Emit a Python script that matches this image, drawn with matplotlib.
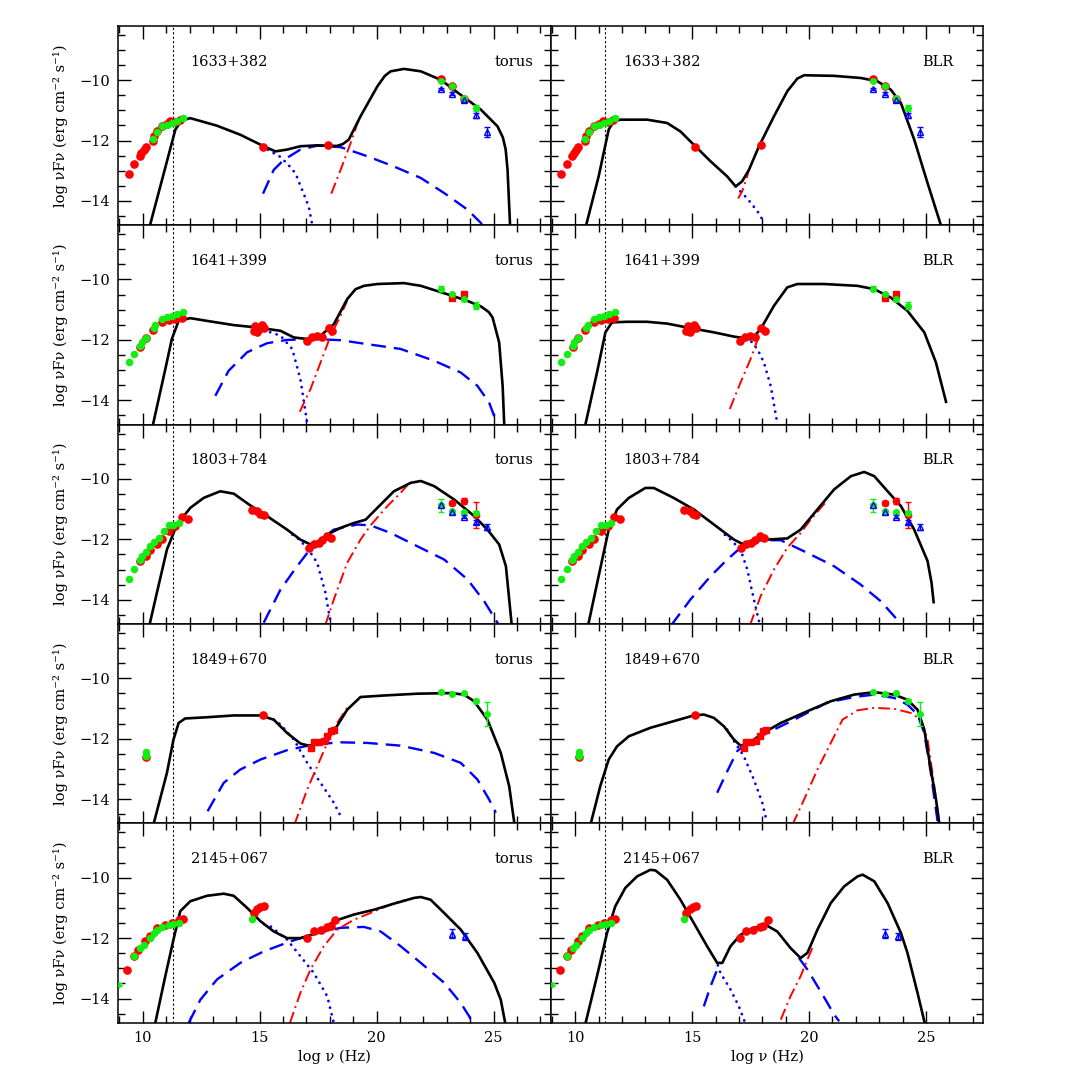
import matplotlib
matplotlib.use("Agg")
import matplotlib.pyplot as plt
from matplotlib.ticker import MultipleLocator

plt.rcParams["font.family"] = ["DejaVu Serif", "DejaVu Sans"]

# ---------------------------------------------------------------- data points
# 1633+382
S1633_RED_X = [9.39, 9.64, 9.86, 9.93, 10.03, 10.13, 10.43, 10.46, 10.60, 10.81, 11.03, 11.17,
               11.39, 11.60, 15.13, 17.94, 22.74, 23.24, 23.74]
S1633_RED_Y = [-13.10, -12.78, -12.52, -12.41, -12.30, -12.22, -12.03, -11.86, -11.70, -11.53,
               -11.44, -11.37, -11.40, -11.31, -12.23, -12.16, -9.96, -10.19, -10.62]
S1633_GRN_X = [10.43, 10.60, 10.81, 11.03, 11.24, 11.46, 11.71]
S1633_GRN_Y = [-11.94, -11.73, -11.53, -11.48, -11.42, -11.37, -11.26]
S1633_GERR = [(22.74, -10.04, 0.04), (23.24, -10.21, 0.05), (23.74, -10.60, 0.06), (24.24, -10.93, 0.10)]
S1633_TRI = [(22.74, -10.30, 0.04), (23.24, -10.45, 0.04), (23.74, -10.67, 0.05),
             (24.24, -11.17, 0.07), (24.74, -11.73, 0.17)]

# 1641+399
S1641_RED_X = [9.89, 10.13, 10.43, 10.81, 11.10, 11.39, 11.67,
               14.74, 14.81, 14.96, 15.10, 15.17, 14.89,
               17.03, 17.24, 17.46, 17.67, 17.96, 18.10]
S1641_RED_Y = [-12.25, -11.95, -11.68, -11.42, -11.33, -11.31, -11.28,
               -11.70, -11.53, -11.64, -11.51, -11.59, -11.75,
               -12.03, -11.92, -11.86, -11.92, -11.59, -11.70]
S1641_GRN_X = [9.39, 9.64, 9.89, 9.96, 10.13, 10.46, 10.53, 10.81, 11.03, 11.24, 11.46, 11.71]
S1641_GRN_Y = [-12.72, -12.45, -12.19, -12.08, -11.93, -11.59, -11.51, -11.31, -11.23, -11.20,
               -11.15, -11.07]
S1641_GERR = [(22.74, -10.30, 0.08), (23.24, -10.49, 0.05), (23.74, -10.65, 0.06), (24.24, -10.87, 0.12)]
S1641_RSQ = [(23.24, -10.60, 0.06), (23.74, -10.49, 0.06)]

# 1803+784
S1803_RED_X = [9.86, 10.13, 10.31, 10.60, 10.81, 11.10, 11.39, 11.67, 11.91,
               14.67, 14.89, 15.03, 15.17,
               17.10, 17.31, 17.53, 17.67, 17.89, 18.06]
S1803_RED_Y = [-12.72, -12.54, -12.34, -12.14, -11.98, -11.73, -11.57, -11.27, -11.32,
               -11.04, -11.07, -11.16, -11.21,
               -12.30, -12.17, -12.12, -12.01, -11.90, -11.97]
S1803_GRN_X = [9.39, 9.64, 9.86, 9.96, 10.13, 10.31, 10.46, 10.67, 10.89, 11.10, 11.31, 11.53]
S1803_GRN_Y = [-13.30, -12.98, -12.67, -12.56, -12.41, -12.23, -12.09, -11.95, -11.73, -11.51,
               -11.54, -11.46]
S1803_GERR = [(22.74, -10.88, 0.20), (23.24, -11.07, 0.05), (23.74, -11.10, 0.05), (24.24, -11.12, 0.05)]
S1803_RERR = [(23.24, -10.79, 0.07), (23.74, -10.74, 0.10), (24.24, -11.18, 0.43)]
S1803_TRI = [(22.74, -10.88, 0.05), (23.24, -11.10, 0.05), (23.74, -11.26, 0.05),
             (24.24, -11.43, 0.06), (24.74, -11.59, 0.10)]

# 1849+670
S1849_RED_X = [10.14, 15.13]
S1849_RED_Y = [-12.60, -11.23]
S1849_GRN_X = [10.14, 10.14]
S1849_GRN_Y = [-12.45, -12.56]
S1849_RSQ = [(17.20, -12.30, 0.05), (17.31, -12.11, 0.04), (17.53, -12.11, 0.04), (17.74, -12.08, 0.04),
             (17.89, -11.92, 0.05), (18.03, -11.75, 0.05), (18.17, -11.70, 0.05)]
S1849_GERR = [(22.74, -10.46, 0.03), (23.24, -10.51, 0.03), (23.74, -10.49, 0.03),
              (24.24, -10.74, 0.06), (24.74, -11.18, 0.40)]

# 2145+067
S2145_RED_X = [9.34, 9.64, 9.81, 10.10, 10.31, 10.60, 10.96, 11.24, 11.53, 11.71,
               14.74, 14.89, 15.03, 15.17,
               17.03, 17.31, 17.60, 17.89, 18.03, 18.24]
S2145_RED_Y = [-13.07, -12.58, -12.40, -12.11, -11.94, -11.66, -11.58, -11.50, -11.39, -11.37,
               -11.17, -11.04, -10.97, -10.93,
               -12.00, -11.78, -11.72, -11.63, -11.61, -11.39]
S2145_GRN_X = [9.64, 9.89, 10.03, 10.29, 10.46, 10.60, 10.81, 11.10, 11.31, 11.53, 14.67]
S2145_GRN_Y = [-12.60, -12.33, -12.22, -12.00, -11.83, -11.72, -11.63, -11.55, -11.53, -11.50, -11.36]
S2145_GCROSS = [(8.99, -13.54, 0.04)]
S2145_TRI = [(23.24, -11.85, 0.15), (23.79, -11.94, 0.12)]

# ---------------------------------------------------------------- model curves (log nu, log nuFnu)
T1633_TOT = [(10.29, -14.85), (10.89, -13.10), (11.39, -11.64), (11.65, -11.34), (12.03, -11.26),
             (13.17, -11.51), (14.17, -11.81), (15.17, -12.19), (15.67, -12.36), (16.17, -12.30),
             (16.74, -12.19), (17.46, -12.16), (18.30, -12.18), (18.55, -12.12), (18.81, -11.97),
             (19.31, -11.20), (20.03, -10.21), (20.35, -9.86), (20.60, -9.71), (21.17, -9.63),
             (21.89, -9.71), (22.74, -9.99), (23.60, -10.49), (24.46, -10.98), (25.17, -11.53),
             (25.40, -11.90), (25.52, -12.30), (25.60, -12.97), (25.71, -14.85)]
T1633_SYN = [(15.10, -12.18), (15.46, -12.36), (15.90, -12.55), (16.25, -12.83), (16.54, -13.10),
             (16.74, -13.50), (16.90, -13.80), (17.10, -14.20), (17.26, -14.85)]
T1633_EXT = [(15.14, -13.76), (15.60, -12.97), (16.03, -12.64), (16.74, -12.30), (17.46, -12.17),
             (18.46, -12.22), (19.60, -12.52), (20.74, -12.86), (21.89, -13.24), (22.89, -13.74),
             (23.89, -14.29), (24.46, -14.73), (24.55, -14.85)]
T1633_SSC = [(18.06, -13.76), (18.46, -12.97), (18.89, -12.08), (19.17, -11.45), (19.31, -11.20)]

B1633_TOT = [(10.45, -14.85), (11.00, -13.19), (11.43, -11.64), (11.64, -11.37), (11.93, -11.31),
             (13.07, -11.31), (13.93, -11.42), (14.50, -11.70), (15.07, -12.14), (15.79, -12.69),
             (16.50, -13.19), (16.86, -13.52), (17.14, -13.35), (17.43, -12.97), (17.86, -12.19),
             (18.50, -11.20), (19.07, -10.37), (19.50, -9.95), (19.79, -9.84), (21.07, -9.86),
             (22.21, -9.93), (22.93, -10.04), (23.50, -10.32), (23.93, -10.76), (24.50, -11.97),
             (25.07, -13.41), (25.66, -14.85)]
B1633_SYN = [(16.86, -13.52), (17.36, -13.92), (17.79, -14.34), (18.01, -14.62)]
B1633_SSC = [(16.97, -13.92), (17.14, -13.68), (17.31, -13.30), (17.43, -12.97)]

T1641_TOT = [(10.42, -14.85), (10.96, -12.97), (11.24, -11.97), (11.53, -11.37), (12.03, -11.28),
             (12.74, -11.37), (13.89, -11.51), (14.89, -11.59), (15.89, -11.70), (16.46, -11.92),
             (17.03, -11.97), (17.60, -11.86), (18.17, -11.48), (18.74, -10.65), (19.10, -10.32),
             (19.46, -10.21), (20.03, -10.15), (21.17, -10.12), (21.89, -10.21), (23.03, -10.49),
             (23.89, -10.71), (24.46, -10.89), (24.80, -11.08), (24.96, -11.26), (25.24, -12.08),
             (25.39, -13.52), (25.46, -14.85)]
T1641_SYN = [(14.60, -11.57), (15.03, -11.64), (15.89, -11.86), (16.39, -12.30), (16.74, -13.30),
             (17.05, -14.85)]
T1641_EXT = [(13.10, -13.85), (13.67, -13.02), (14.46, -12.41), (15.31, -12.11), (16.17, -12.00),
             (17.31, -11.97), (18.46, -12.01), (19.60, -12.14), (21.03, -12.30), (22.46, -12.69),
             (23.60, -13.08), (24.31, -13.52), (24.81, -14.07), (25.10, -14.67), (25.15, -14.85)]
T1641_SSC = [(16.71, -14.38), (17.17, -13.63), (17.60, -12.75), (18.03, -11.86), (18.46, -11.20),
             (18.74, -10.70)]

B1641_TOT = [(10.42, -14.85), (10.93, -13.08), (11.29, -11.75), (11.57, -11.42), (12.21, -11.40),
             (13.07, -11.40), (13.93, -11.46), (14.79, -11.59), (15.93, -11.75), (16.79, -11.89),
             (17.21, -11.94), (17.64, -11.89), (17.93, -11.64), (18.50, -10.87), (19.07, -10.26),
             (19.50, -10.15), (20.64, -10.15), (22.07, -10.21), (22.79, -10.32), (23.50, -10.60),
             (24.21, -11.04), (24.93, -11.75), (25.43, -12.75), (25.86, -14.05)]
B1641_SYN = [(17.30, -11.93), (17.50, -12.03), (17.79, -12.30), (18.07, -12.75), (18.36, -13.52),
             (18.61, -14.62)]
B1641_SSC = [(16.61, -14.29), (17.07, -13.41), (17.50, -12.63), (17.86, -11.86)]

T1803_TOT = [(10.28, -14.85), (10.60, -13.77), (11.03, -12.34), (11.46, -11.51), (12.03, -10.96),
             (12.60, -10.63), (13.31, -10.41), (13.89, -10.49), (14.60, -10.88), (15.31, -11.23),
             (16.17, -11.68), (16.74, -12.01), (17.17, -12.17), (17.46, -12.14), (17.89, -11.84),
             (18.46, -11.62), (19.03, -11.46), (19.53, -11.35), (20.03, -10.96), (20.74, -10.41),
             (21.46, -10.13), (21.89, -10.07), (22.46, -10.24), (23.31, -10.68), (24.17, -11.23),
             (24.74, -11.68), (25.24, -12.17), (25.53, -12.89), (25.78, -14.85)]
T1803_SYN = [(16.40, -11.85), (16.60, -11.95), (17.03, -12.28), (17.46, -12.78), (17.81, -13.77),
             (18.05, -14.85)]
T1803_EXT = [(15.17, -14.76), (15.89, -13.66), (16.60, -12.89), (17.31, -12.17), (18.17, -11.68),
             (19.17, -11.51), (19.74, -11.54), (20.60, -11.79), (21.74, -12.23), (22.89, -12.67),
             (23.89, -13.33), (24.60, -14.05), (25.24, -14.85)]
T1803_SSC = [(17.80, -14.85), (18.17, -13.99), (18.74, -12.78), (19.31, -12.01), (19.74, -11.54),
             (20.46, -10.90), (21.03, -10.46), (21.30, -10.22)]

B1803_TOT = [(10.55, -14.85), (11.00, -13.22), (11.43, -11.68), (11.79, -11.01), (12.29, -10.63),
             (13.00, -10.30), (13.36, -10.30), (14.21, -10.63), (15.07, -11.01), (15.93, -11.51),
             (16.79, -12.01), (17.14, -12.15), (17.64, -12.03), (18.21, -12.01), (19.07, -11.97),
             (19.64, -11.68), (20.36, -11.01), (21.07, -10.35), (21.79, -9.91), (22.36, -9.77),
             (22.79, -9.91), (23.36, -10.41), (23.93, -10.90), (24.50, -11.68), (25.07, -12.72),
             (25.24, -13.44), (25.33, -14.08)]
B1803_SYN = [(16.40, -11.85), (16.64, -12.01), (17.07, -12.34), (17.36, -13.00), (17.64, -13.99),
             (17.86, -14.71)]
B1803_EXT = [(14.10, -14.85), (14.93, -13.99), (15.79, -13.22), (16.50, -12.67), (17.07, -12.28),
             (17.79, -12.03), (18.79, -12.03), (19.93, -12.45), (21.07, -12.89), (22.21, -13.50),
             (23.07, -14.05), (23.99, -14.85)]
B1803_SSC = [(17.47, -14.85), (17.93, -13.88), (18.50, -13.00), (19.07, -12.28), (19.64, -11.79),
             (20.07, -11.35), (20.50, -10.96), (20.80, -10.70)]

T1849_TOT = [(10.45, -14.85), (11.03, -13.13), (11.31, -12.03), (11.53, -11.48), (11.81, -11.33),
             (12.74, -11.29), (13.89, -11.23), (15.03, -11.23), (15.60, -11.37), (16.17, -11.81),
             (16.74, -12.16), (17.10, -12.23), (17.60, -12.14), (18.17, -11.75), (18.74, -11.04),
             (19.31, -10.62), (20.31, -10.57), (21.74, -10.51), (23.17, -10.49), (23.74, -10.54),
             (24.17, -10.76), (24.74, -11.37), (25.31, -12.47), (25.67, -13.57), (25.90, -14.85)]
T1849_SYN = [(15.60, -11.37), (15.89, -11.53), (16.46, -12.03), (17.03, -12.80), (17.60, -13.46),
             (18.17, -14.12), (18.53, -14.67)]
T1849_EXT = [(12.77, -14.40), (13.46, -13.46), (14.17, -13.02), (15.03, -12.69), (16.17, -12.38),
             (17.31, -12.19), (18.46, -12.12), (19.60, -12.14), (21.03, -12.23), (22.46, -12.47),
             (23.60, -12.80), (24.31, -13.35), (24.81, -14.01), (25.10, -14.45)]
T1849_SSC = [(16.48, -14.85), (17.03, -13.68), (17.46, -12.91), (17.89, -12.14), (18.31, -11.48),
             (18.74, -10.98)]

B1849_TOT = [(10.65, -14.85), (11.07, -13.57), (11.43, -12.69), (11.79, -12.25), (12.29, -11.92),
             (13.21, -11.64), (14.21, -11.42), (15.07, -11.23), (15.50, -11.20), (15.93, -11.31),
             (16.36, -11.59), (16.79, -12.03), (17.07, -12.23), (17.50, -12.12), (17.93, -11.86),
             (18.79, -11.48), (19.93, -11.09), (20.93, -10.76), (21.93, -10.54), (22.79, -10.46),
             (23.64, -10.54), (24.21, -10.71), (24.64, -11.04), (24.93, -11.70), (25.21, -13.02),
             (25.43, -14.01), (25.58, -14.85)]
B1849_SYN = [(16.50, -11.70), (16.79, -12.08), (17.21, -12.58), (17.64, -13.35), (18.00, -14.12),
             (18.19, -14.73)]
B1849_EXT = [(16.07, -13.79), (16.50, -13.08), (16.93, -12.41), (17.36, -12.14), (18.21, -11.81),
             (19.36, -11.37), (20.79, -10.80), (21.93, -10.62), (22.79, -10.54), (23.64, -10.65),
             (24.21, -10.87), (24.64, -11.20), (24.93, -11.81), (25.21, -13.13), (25.52, -14.85)]
B1849_SSC = [(19.29, -14.85), (19.79, -14.01), (20.36, -13.02), (20.93, -12.14), (21.43, -11.37),
             (22.07, -11.06), (22.79, -10.98), (23.64, -11.01), (24.36, -11.15), (24.79, -11.37),
             (25.07, -12.03), (25.36, -13.57), (25.58, -14.85)]

T2145_TOT = [(10.52, -14.85), (10.96, -13.26), (11.31, -12.05), (11.60, -11.11), (12.03, -10.78),
             (12.74, -10.60), (13.46, -10.53), (13.89, -10.60), (14.46, -11.00), (15.03, -11.44),
             (15.60, -11.78), (16.17, -12.00), (16.74, -12.00), (17.46, -11.83), (18.17, -11.44),
             (19.03, -11.22), (19.89, -11.06), (20.74, -10.86), (21.60, -10.67), (21.89, -10.64),
             (22.31, -10.73), (22.89, -11.17), (23.60, -11.72), (24.31, -12.49), (25.03, -13.48),
             (25.31, -14.04), (25.51, -14.85)]
T2145_SYN = [(15.20, -11.55), (15.46, -11.61), (16.17, -12.05), (16.74, -12.60), (17.31, -13.15),
             (17.89, -13.93), (18.18, -14.85)]
T2145_EXT = [(11.96, -14.81), (12.46, -14.04), (13.17, -13.37), (14.17, -12.82), (15.17, -12.44),
             (16.31, -12.11), (17.46, -11.83), (18.46, -11.66), (19.46, -11.63), (20.17, -11.78),
             (21.03, -12.27), (21.89, -12.82), (22.89, -13.48), (23.60, -14.15), (23.96, -14.59),
             (24.10, -14.85)]
T2145_SSC = [(16.29, -14.81), (16.74, -13.81), (17.17, -13.04), (17.74, -12.27), (18.31, -11.72),
             (19.03, -11.39), (19.89, -11.12), (20.74, -10.84), (21.20, -10.74)]

B2145_TOT = [(10.43, -14.85), (10.93, -13.26), (11.36, -11.83), (11.71, -10.95), (12.14, -10.34),
             (12.64, -9.96), (13.21, -9.74), (13.43, -9.76), (13.93, -10.07), (14.50, -10.73),
             (15.07, -11.50), (15.64, -12.27), (16.07, -12.82), (16.29, -12.82), (16.64, -12.27),
             (17.07, -11.89), (17.64, -11.66), (18.21, -11.59), (18.64, -11.78), (19.21, -12.33),
             (19.64, -12.66), (19.93, -12.49), (20.36, -11.72), (20.93, -10.84), (21.50, -10.29),
             (22.07, -9.96), (22.29, -9.90), (22.79, -10.12), (23.36, -10.84), (23.93, -11.83),
             (24.21, -12.49), (24.64, -13.81), (24.96, -14.85)]
B2145_SYN = [(16.10, -12.90), (16.21, -13.15), (16.64, -13.70), (17.00, -14.26), (17.24, -14.75)]
B2145_EXT = [(15.50, -14.26), (15.79, -13.59), (16.07, -13.04), (16.20, -12.82), None,
             (19.57, -12.66), (19.93, -13.04), (20.36, -13.59), (20.79, -14.15), (21.07, -14.53),
             (21.29, -14.75)]
B2145_SSC = [(18.79, -14.70), (19.21, -13.92), (19.64, -13.26), (19.93, -12.71), (20.14, -12.33)]

NAMES = ["1633+382", "1641+399", "1803+784", "1849+670", "2145+067"]
DUST_LINE = 11.27
XLIM = (8.95, 27.45)
YLIM = (-14.8, -8.2)

# ---------------------------------------------------------------- layout (figure pixels)
W = H = 1090
LEFT_X = [118.3, 550.7]
PANEL_W = 432.5
TOP_Y = 25.7
PANEL_H = 199.4

RED = "#ff0000"
GREEN = "#11ee11"
BLUE = "#0000ff"

SOURCES = [
    dict(rx=S1633_RED_X, ry=S1633_RED_Y, gx=S1633_GRN_X, gy=S1633_GRN_Y, gerr=S1633_GERR, tri=S1633_TRI),
    dict(rx=S1641_RED_X, ry=S1641_RED_Y, gx=S1641_GRN_X, gy=S1641_GRN_Y, gerr=S1641_GERR, rsq=S1641_RSQ),
    dict(rx=S1803_RED_X, ry=S1803_RED_Y, gx=S1803_GRN_X, gy=S1803_GRN_Y, gerr=S1803_GERR,
         rerr=S1803_RERR, tri=S1803_TRI),
    dict(rx=S1849_RED_X, ry=S1849_RED_Y, gx=S1849_GRN_X, gy=S1849_GRN_Y, gerr=S1849_GERR, rsq=S1849_RSQ),
    dict(rx=S2145_RED_X, ry=S2145_RED_Y, gx=S2145_GRN_X, gy=S2145_GRN_Y, gcross=S2145_GCROSS,
         tri=S2145_TRI),
]
MODELS = [
    [(T1633_TOT, T1633_SYN, T1633_EXT, T1633_SSC), (B1633_TOT, B1633_SYN, [], B1633_SSC)],
    [(T1641_TOT, T1641_SYN, T1641_EXT, T1641_SSC), (B1641_TOT, B1641_SYN, [], B1641_SSC)],
    [(T1803_TOT, T1803_SYN, T1803_EXT, T1803_SSC), (B1803_TOT, B1803_SYN, B1803_EXT, B1803_SSC)],
    [(T1849_TOT, T1849_SYN, T1849_EXT, T1849_SSC), (B1849_TOT, B1849_SYN, B1849_EXT, B1849_SSC)],
    [(T2145_TOT, T2145_SYN, T2145_EXT, T2145_SSC), (B2145_TOT, B2145_SYN, B2145_EXT, B2145_SSC)],
]


def _xy(pts):
    xs = [p[0] if p is not None else float("nan") for p in pts]
    ys = [p[1] if p is not None else float("nan") for p in pts]
    return xs, ys


def draw_model(ax, model):
    tot, syn, ext, ssc = model
    if syn:
        ax.plot(*_xy(syn), color=BLUE, lw=2.0, dashes=(0.05, 2.4), dash_capstyle="round", zorder=2)
    if ext:
        ax.plot(*_xy(ext), color=BLUE, lw=1.7, dashes=(6.2, 3.4), zorder=2)
    if ssc:
        ax.plot(*_xy(ssc), color=RED, lw=1.4, dashes=(6.0, 2.2, 1.0, 2.2), zorder=2)
    ax.plot(*_xy(tot), color="black", lw=1.9, zorder=3, solid_joinstyle="round")


def draw_errs(ax, pts, color, marker, mfc, ms):
    if not pts:
        return
    xs, ys = _xy(pts)
    es = [p[2] for p in pts]
    ax.errorbar(xs, ys, yerr=es, fmt=marker, color=color, mfc=mfc, mec=color, ms=ms,
                elinewidth=1.0, capsize=2.5, capthick=1.0, mew=1.0, zorder=5)


def draw_data(ax, src):
    ax.plot(src["rx"], src["ry"], "o", color=RED, ms=5.2, mec=RED, zorder=4)
    ax.plot(src["gx"], src["gy"], "o", color=GREEN, ms=4.4, mec=GREEN, zorder=4)
    draw_errs(ax, src.get("rsq"), RED, "s", RED, 4.0)
    draw_errs(ax, src.get("rerr"), RED, "o", RED, 4.5)
    draw_errs(ax, src.get("gerr"), GREEN, "o", GREEN, 4.0)
    draw_errs(ax, src.get("gcross"), GREEN, "+", GREEN, 4.0)
    draw_errs(ax, src.get("tri"), BLUE, "^", "none", 4.0)


def main():
    fig = plt.figure(figsize=(W / 100, H / 100), dpi=100)
    for row in range(5):
        for col in range(2):
            x0 = LEFT_X[col]
            y0 = TOP_Y + (row + 1) * PANEL_H
            ax = fig.add_axes([x0 / W, 1 - y0 / H, PANEL_W / W, PANEL_H / H])
            draw_model(ax, MODELS[row][col])
            draw_data(ax, SOURCES[row])
            ax.axvline(DUST_LINE, color="black", lw=0.8, dashes=(2.0, 2.0), zorder=1)
            ax.set_xlim(*XLIM)
            ax.set_ylim(*YLIM)
            ax.xaxis.set_major_locator(MultipleLocator(5))
            ax.xaxis.set_minor_locator(MultipleLocator(1))
            ax.yaxis.set_major_locator(MultipleLocator(2))
            ax.yaxis.set_minor_locator(MultipleLocator(0.5))
            ax.tick_params(which="both", direction="in", top=True, right=True, width=1.0,
                           labelsize=10.5)
            ax.tick_params(which="major", length=9, pad=6)
            ax.tick_params(which="minor", length=5)
            for sp in ax.spines.values():
                sp.set_linewidth(1.1)
            ax.text(0.167, 0.82, NAMES[row], transform=ax.transAxes, fontsize=10.5,
                    ha="left", va="center")
            if col == 0:
                ax.text(0.959, 0.82, "torus", transform=ax.transAxes, fontsize=10.5,
                        ha="right", va="center")
                ax.set_ylabel("log νFν (erg cm⁻² s⁻¹)", fontsize=10.5, labelpad=8)
            else:
                ax.text(0.931, 0.82, "BLR", transform=ax.transAxes, fontsize=10.5,
                        ha="right", va="center")
                ax.tick_params(labelleft=False)
            if row == 4:
                ax.set_xlabel("log ν (Hz)", fontsize=10.5, labelpad=3)
            else:
                ax.tick_params(labelbottom=False)
    fig.savefig("out.png", dpi=100)
    plt.close(fig)


if __name__ == "__main__":
    main()
